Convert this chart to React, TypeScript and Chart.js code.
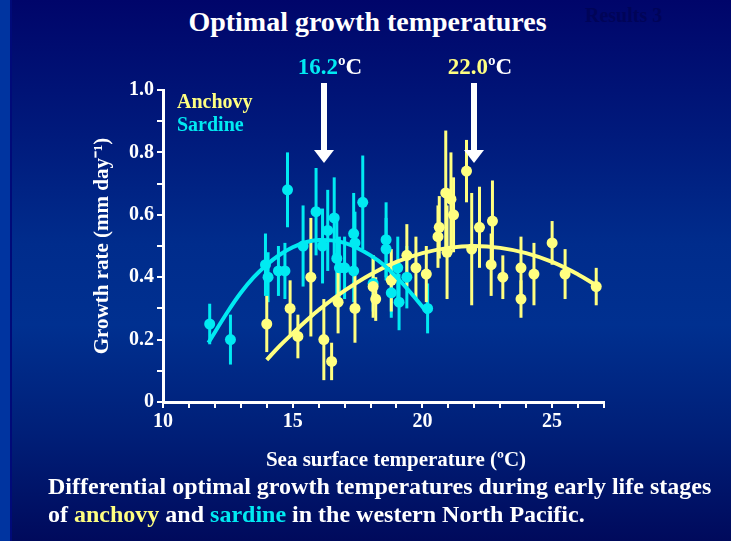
import React, { useEffect, useRef } from "react";
import { Chart, registerables } from "chart.js";

Chart.register(...registerables);

// Sardine larvae: sea surface temperature (°C), growth rate (mm/day), ± error
const sardineTemp = [11.8, 12.6, 13.95, 14.05, 14.45, 14.7, 14.8, 15.4, 15.9, 16.15, 16.35, 16.6, 16.7, 16.8, 17.0, 17.35, 17.4, 17.7, 17.35, 18.1, 18.6, 18.6, 18.8, 19.05, 19.1, 19.4, 20.2];
const sardineRate = [0.25, 0.2, 0.44, 0.4, 0.42, 0.42, 0.68, 0.5, 0.61, 0.5, 0.55, 0.59, 0.46, 0.43, 0.43, 0.54, 0.51, 0.64, 0.42, 0.38, 0.52, 0.49, 0.35, 0.43, 0.32, 0.4, 0.3];
const sardineErr = [0.065, 0.08, 0.1, 0.08, 0.08, 0.09, 0.12, 0.13, 0.14, 0.12, 0.13, 0.13, 0.12, 0.1, 0.1, 0.13, 0.1, 0.15, 0.1, 0.09, 0.12, 0.1, 0.08, 0.1, 0.09, 0.1, 0.08];

// Anchovy larvae
const anchovyTemp = [14.0, 14.9, 15.2, 15.7, 16.2, 16.5, 16.75, 17.4, 18.1, 18.2, 18.8, 19.4, 19.75, 20.15, 20.6, 20.65, 20.9, 21.1, 21.2, 20.95, 21.7, 21.9, 22.2, 22.7, 22.65, 23.1, 23.8, 23.8, 24.3, 25.0, 25.5, 26.7];
const anchovyRate = [0.25, 0.3, 0.21, 0.4, 0.2, 0.13, 0.32, 0.3, 0.37, 0.33, 0.39, 0.47, 0.43, 0.41, 0.53, 0.56, 0.67, 0.65, 0.6, 0.48, 0.74, 0.49, 0.56, 0.58, 0.44, 0.4, 0.43, 0.33, 0.41, 0.51, 0.41, 0.37];
const anchovyErr = [0.09, 0.09, 0.07, 0.19, 0.13, 0.06, 0.1, 0.11, 0.1, 0.07, 0.1, 0.1, 0.1, 0.09, 0.1, 0.1, 0.2, 0.15, 0.12, 0.15, 0.1, 0.18, 0.13, 0.13, 0.1, 0.07, 0.1, 0.06, 0.1, 0.07, 0.08, 0.06];

// Fitted growth curves
const sardineFitTemp = [11.75, 12.5, 13, 13.5, 14, 14.5, 15, 15.5, 16, 16.5, 17, 17.5, 18, 18.5, 19, 19.5, 20.2];
const sardineFitRate = [0.19, 0.29, 0.35, 0.4, 0.44, 0.472, 0.496, 0.512, 0.519, 0.518, 0.51, 0.493, 0.47, 0.44, 0.4, 0.355, 0.285];
const anchovyFitTemp = [14, 14.5, 15, 15.5, 16, 17, 18, 19, 20, 21, 22, 23, 24, 25, 26, 26.7];
const anchovyFitRate = [0.135, 0.18, 0.22, 0.259, 0.295, 0.357, 0.409, 0.449, 0.477, 0.494, 0.5, 0.494, 0.477, 0.449, 0.409, 0.374];

// Optimal temperatures marked with arrows
const optimumTemps = [16.2, 22.0];
const optimumLabels = ["16.2", "22.0"];

// Axis ticks
const xTickValues = [10, 15, 20, 25];
const xTickLabels = ["10", "15", "20", "25"];
const yTickValues = [0, 0.2, 0.4, 0.6, 0.8, 1.0];
const yTickLabels = ["0", "0.2", "0.4", "0.6", "0.8", "1.0"];

const CYAN = "#00eaf2";
const YELLOW = "#ffff80";
const WHITE = "#ffffff";
const FONT = '"Liberation Serif", "Times New Roman", serif';

const toPoints = (xs: number[], ys: number[]) => xs.map((x, i) => ({ x, y: ys[i] }));

const errorSeries = [
  { temp: sardineTemp, rate: sardineRate, err: sardineErr, color: CYAN },
  { temp: anchovyTemp, rate: anchovyRate, err: anchovyErr, color: YELLOW },
];

const errorBarPlugin = {
  id: "errorBars",
  beforeDatasetsDraw(chart: any) {
    const { ctx, scales } = chart;
    const xs = scales.x;
    const ys = scales.y;
    ctx.save();
    ctx.lineWidth = 3;
    ctx.lineCap = "butt";
    errorSeries.forEach((s) => {
      ctx.strokeStyle = s.color;
      s.temp.forEach((t, i) => {
        const px = xs.getPixelForValue(t);
        ctx.beginPath();
        ctx.moveTo(px, ys.getPixelForValue(s.rate[i] + s.err[i]));
        ctx.lineTo(px, ys.getPixelForValue(s.rate[i] - s.err[i]));
        ctx.stroke();
      });
    });
    ctx.restore();
  },
};

const optimumArrowPlugin = {
  id: "optimumArrows",
  afterDraw(chart: any) {
    const { ctx, scales, chartArea } = chart;
    const colors = [CYAN, YELLOW];
    ctx.save();
    optimumTemps.forEach((t, i) => {
      const px = Math.round(scales.x.getPixelForValue(t));
      const top = chartArea.top - 7;
      const headTop = top + 67;
      const tip = top + 80;
      ctx.fillStyle = WHITE;
      ctx.fillRect(px - 3, top, 6, headTop - top + 1);
      ctx.beginPath();
      ctx.moveTo(px - 10, headTop);
      ctx.lineTo(px + 10, headTop);
      ctx.lineTo(px, tip);
      ctx.closePath();
      ctx.fill();

      ctx.font = `bold 23px ${FONT}`;
      ctx.textBaseline = "alphabetic";
      const num = optimumLabels[i];
      const unit = "\u00baC";
      const wNum = ctx.measureText(num).width;
      const wUnit = ctx.measureText(unit).width;
      const startX = px + 6 - (wNum + wUnit) / 2;
      const baseY = chartArea.top - 16;
      ctx.fillStyle = colors[i];
      ctx.fillText(num, startX, baseY);
      ctx.fillStyle = WHITE;
      ctx.fillText(unit, startX + wNum, baseY);
    });
    ctx.restore();
  },
};

const matchLabel = (v: number, values: number[], labels: string[]) => {
  const i = values.findIndex((t) => Math.abs(t - v) < 1e-6);
  return i >= 0 ? labels[i] : "";
};

export default function App() {
  const canvasRef = useRef<HTMLCanvasElement | null>(null);

  useEffect(() => {
    if (!canvasRef.current) return;
    const chart = new Chart(canvasRef.current, {
      type: "scatter",
      data: {
        datasets: [
          {
            label: "Sardine fit",
            data: toPoints(sardineFitTemp, sardineFitRate),
            showLine: true,
            borderColor: CYAN,
            borderWidth: 4,
            pointRadius: 0,
            tension: 0.4,
            fill: false,
          },
          {
            label: "Anchovy fit",
            data: toPoints(anchovyFitTemp, anchovyFitRate),
            showLine: true,
            borderColor: YELLOW,
            borderWidth: 4,
            pointRadius: 0,
            tension: 0.4,
            fill: false,
          },
          {
            label: "Anchovy",
            data: toPoints(anchovyTemp, anchovyRate),
            backgroundColor: YELLOW,
            borderWidth: 0,
            pointRadius: 5.5,
          },
          {
            label: "Sardine",
            data: toPoints(sardineTemp, sardineRate),
            backgroundColor: CYAN,
            borderWidth: 0,
            pointRadius: 5.5,
          },
        ],
      },
      options: {
        animation: false,
        responsive: false,
        devicePixelRatio: 1,
        layout: { padding: { left: 90, right: 127, top: 90, bottom: 99 } },
        plugins: {
          legend: { display: false },
          tooltip: { enabled: false },
        },
        scales: {
          x: {
            type: "linear",
            min: 10,
            max: 27,
            afterFit: (scale: any) => {
              scale.height = 40;
            },
            border: { display: true, color: WHITE, width: 3 },
            grid: { drawOnChartArea: false, drawTicks: true, tickLength: 6, color: WHITE, lineWidth: 2 },
            ticks: {
              stepSize: 1,
              autoSkip: false,
              maxRotation: 0,
              padding: 2,
              color: WHITE,
              font: { family: FONT, size: 20, weight: "bold" },
              callback: (v: any) => matchLabel(Number(v), xTickValues, xTickLabels),
            },
          },
          y: {
            type: "linear",
            min: 0,
            max: 1,
            afterFit: (scale: any) => {
              scale.width = 73;
            },
            border: { display: true, color: WHITE, width: 3 },
            grid: { drawOnChartArea: false, drawTicks: true, tickLength: 6, color: WHITE, lineWidth: 2 },
            title: {
              display: true,
              text: "Growth rate (mm day\u207b\u00b9)",
              color: WHITE,
              padding: 0,
              font: { family: FONT, size: 21, weight: "bold" },
            },
            ticks: {
              stepSize: 0.1,
              autoSkip: false,
              padding: 3,
              color: WHITE,
              font: { family: FONT, size: 20, weight: "bold" },
              callback: (v: any) => matchLabel(Number(v), yTickValues, yTickLabels),
            },
          },
        },
      },
      plugins: [errorBarPlugin, optimumArrowPlugin],
    } as any);
    return () => chart.destroy();
  }, []);

  const bold = { fontFamily: FONT, fontWeight: "bold" as const };

  return (
    <div
      style={{
        position: "fixed",
        left: 0,
        top: 0,
        width: 731,
        height: 541,
        overflow: "hidden",
        background:
          "linear-gradient(180deg, #00056a 0%, #001a7c 25%, #002c8c 45%, #003090 60%, #001f78 80%, #000a5c 100%)",
      }}
    >
      <div style={{ position: "absolute", left: 0, top: 0, width: 10, height: 541, background: "#0034a0" }} />
      <div style={{ position: "absolute", left: 10, top: 0, width: 2, height: 541, background: "#000a78" }} />
      <div
        style={{ ...bold, position: "absolute", left: 585, top: 2, fontSize: 20, lineHeight: "26px", color: "#000458" }}
      >
        Results 3
      </div>
      <div
        style={{
          ...bold,
          position: "absolute",
          left: 0,
          top: 5,
          width: 735,
          textAlign: "center",
          fontSize: 28,
          lineHeight: "34px",
          color: WHITE,
        }}
      >
        Optimal growth temperatures
      </div>
      <canvas
        ref={canvasRef}
        width={731}
        height={541}
        style={{ position: "absolute", left: 0, top: 0, width: 731, height: 541 }}
      />
      <div style={{ ...bold, position: "absolute", left: 177, top: 90, fontSize: 20, lineHeight: "23px" }}>
        <div style={{ color: YELLOW }}>Anchovy</div>
        <div style={{ color: CYAN }}>Sardine</div>
      </div>
      <div
        style={{
          ...bold,
          position: "absolute",
          left: 196,
          top: 446,
          width: 400,
          textAlign: "center",
          fontSize: 21,
          lineHeight: "26px",
          color: WHITE,
        }}
      >
        Sea surface temperature (ºC)
      </div>
      <div
        style={{
          ...bold,
          position: "absolute",
          left: 48,
          top: 472,
          fontSize: 24,
          lineHeight: "28px",
          color: WHITE,
          whiteSpace: "nowrap",
        }}
      >
        <div>Differential optimal growth temperatures during early life stages</div>
        <div>
          of <span style={{ color: YELLOW }}>anchovy</span> and <span style={{ color: CYAN }}>sardine</span> in the
          western North Pacific.
        </div>
      </div>
    </div>
  );
}
